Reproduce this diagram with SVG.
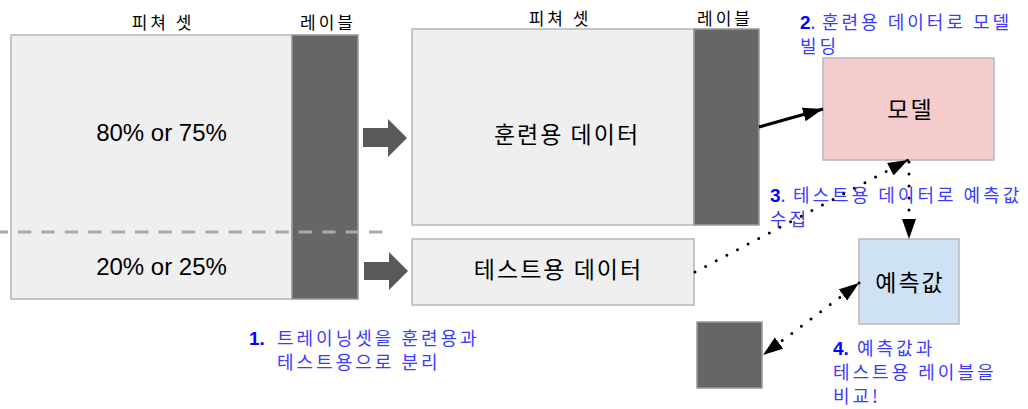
<svg xmlns="http://www.w3.org/2000/svg" width="1028" height="409" viewBox="0 0 1028 409">
<style>
  text { font-family: "Noto Sans CJK KR", "Liberation Sans", sans-serif; fill: #000; }
  .box { fill: #efefef; stroke: #b7b7b7; stroke-width: 1.5; }
  .lbl { fill: #666666; stroke: #999999; stroke-width: 1.5; }
  .hdr { font-size: 17px; letter-spacing: 3px; text-anchor: middle; }
  .big { font-size: 23px; letter-spacing: 2px; text-anchor: middle; }
  .pct { font-family: "Liberation Sans", Arial, sans-serif; font-size: 24px; text-anchor: middle; }
  .note { font-size: 18px; letter-spacing: 3px; fill: #3c3cff; }
  .num { font-family: "Liberation Sans", Arial, sans-serif; font-weight: bold; font-size: 19px; fill: #0000ff; letter-spacing: 0; }
  .blk { fill: #595959; }
  .dot { fill: none; stroke: #000; stroke-width: 3; stroke-linecap: round; stroke-dasharray: 0 12; }
</style>
<defs>
  <marker id="ah" markerUnits="userSpaceOnUse" markerWidth="22" markerHeight="16" refX="20" refY="7" orient="auto-start-reverse">
    <path d="M0,0 L20,7 L0,14 z" fill="#000"/>
  </marker>
</defs>

<g id="full-set">
  <rect class="box" x="11" y="35" width="281" height="264"/>
  <rect class="lbl" x="292" y="35" width="66" height="264"/>
  <text class="hdr" x="163" y="29">피쳐 셋</text>
  <text class="hdr" x="328" y="29">레이블</text>
  <text class="pct" x="161.5" y="141">80% or 75%</text>
  <text class="pct" x="161.5" y="275">20% or 25%</text>
</g>

<g id="split-line">
  <line x1="0" y1="232" x2="383" y2="232" stroke="#aaaaaa" stroke-width="3" stroke-dasharray="13.4 10" stroke-dashoffset="5.4"/>
</g>

<g id="train-data">
  <rect class="box" x="412" y="29" width="282" height="196"/>
  <rect class="lbl" x="694" y="29" width="65" height="196"/>
  <text class="hdr" x="560" y="25">피쳐 셋</text>
  <text class="hdr" x="725" y="25">레이블</text>
  <text class="big" x="567" y="143">훈련용 데이터</text>
</g>

<g id="test-data">
  <rect class="box" x="412" y="239" width="282" height="66"/>
  <text class="big" x="558.5" y="278">테스트용 데이터</text>
</g>

<g id="model">
  <rect x="823" y="58" width="171" height="102" fill="#f4cccc" stroke="#b7b7b7" stroke-width="1.5"/>
  <text class="big" x="910.5" y="118">모델</text>
</g>

<g id="prediction">
  <rect x="859" y="239" width="100" height="85" fill="#cfe2f3" stroke="#b7b7b7" stroke-width="1.5"/>
  <text class="big" x="910" y="291">예측값</text>
</g>

<g id="test-label">
  <rect class="lbl" x="697" y="322" width="65" height="66"/>
</g>

<g id="notes">
  <text class="note" x="249" y="345"><tspan class="num">1.</tspan><tspan x="277">트레이닝셋을 훈련용과</tspan></text>
  <text class="note" x="277" y="369">테스트용으로 분리</text>
  <text class="note" x="800" y="29"><tspan class="num">2</tspan><tspan>.</tspan><tspan x="822">훈련용 데이터로 모델</tspan></text>
  <text class="note" x="800" y="53">빌딩</text>
  <text class="note" x="770" y="202"><tspan class="num">3</tspan><tspan>.</tspan><tspan x="793">테스트용 데이터로 예측값</tspan></text>
  <text class="note" x="770" y="226">수집</text>
  <text class="note" x="833" y="355"><tspan class="num">4.</tspan><tspan x="857">예측값과</tspan></text>
  <text class="note" x="833" y="379">테스트용 레이블을</text>
  <text class="note" x="833" y="403">비교!</text>
</g>

<g id="connectors">
  <path class="blk" d="M363,128 H388 V119 L407,138 L388,157 V147 H363 Z"/>
  <path class="blk" d="M364,262 H389 V252 L408,271 L389,290 V280 H364 Z"/>
  <line x1="759" y1="127" x2="823" y2="109" stroke="#000" stroke-width="3" marker-end="url(#ah)"/>
  <line class="dot" x1="695" y1="272" x2="908" y2="160" marker-end="url(#ah)"/>
  <line class="dot" x1="909" y1="162" x2="909" y2="239" marker-end="url(#ah)"/>
  <line class="dot" x1="859" y1="283" x2="763" y2="355" marker-start="url(#ah)" marker-end="url(#ah)"/>
</g>
</svg>
